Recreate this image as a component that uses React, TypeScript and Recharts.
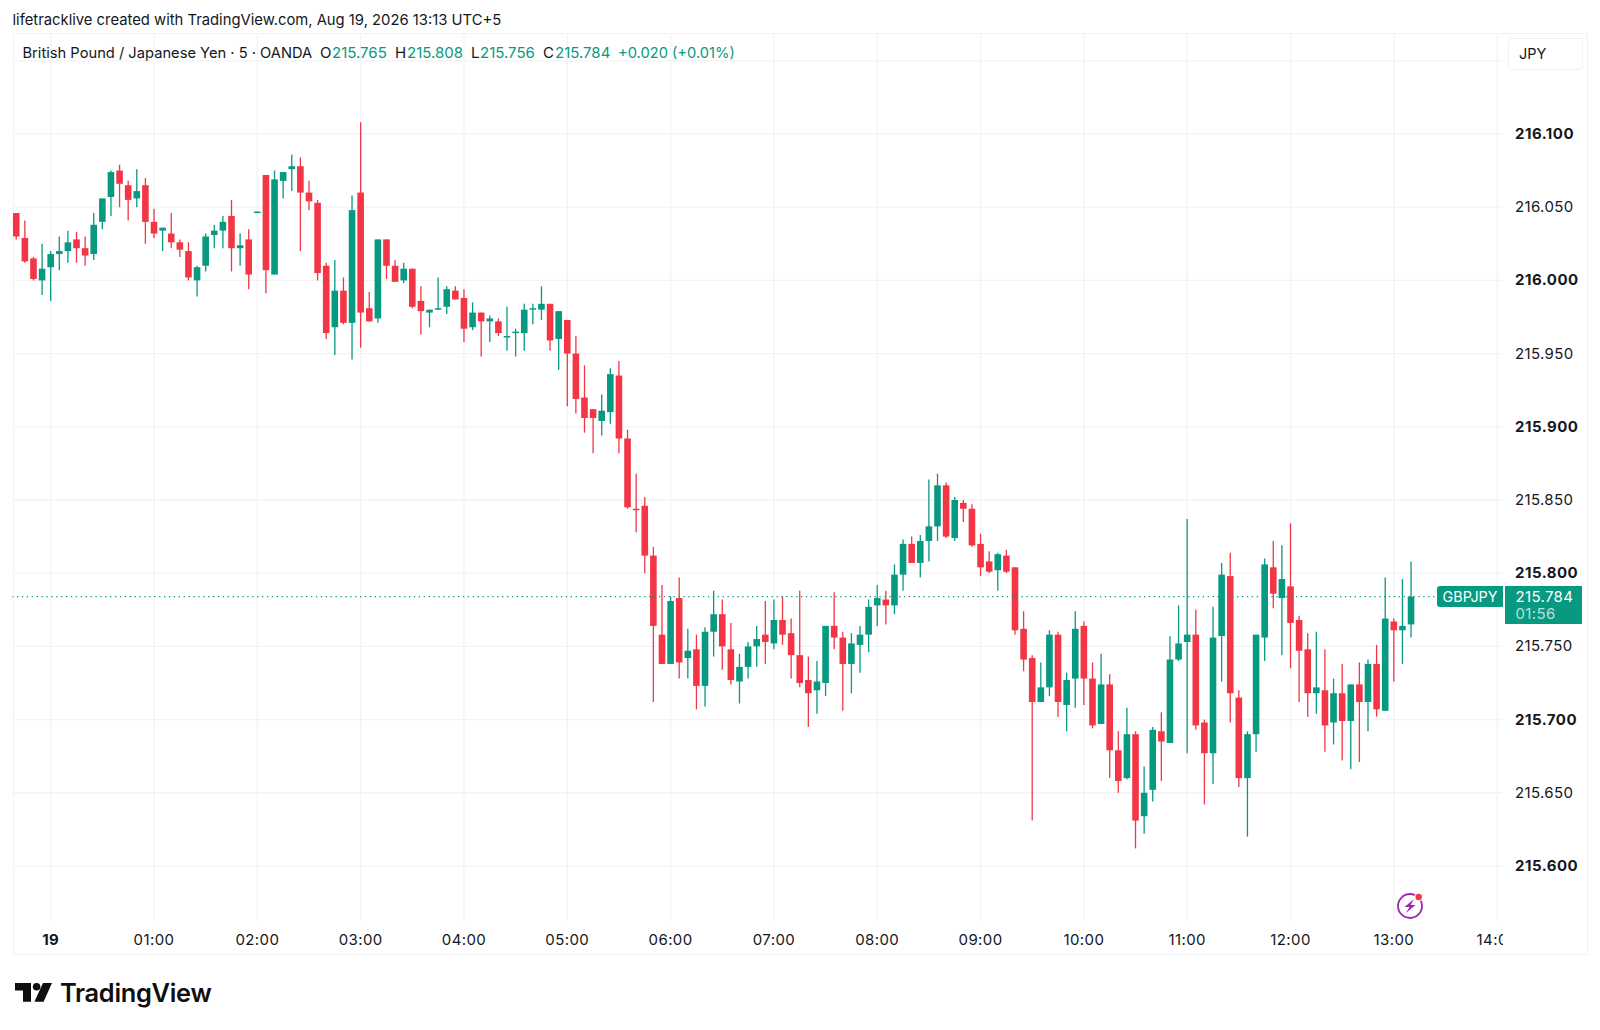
import { Bar, CartesianGrid, ComposedChart, ReferenceLine, XAxis, YAxis } from "recharts";

const UP = "#089981";
const DOWN = "#f23645";
const INK = "#131722";
const GRID = "#f3f3f5";
const FONT = "Inter, 'Noto Sans', sans-serif";

const opens = [
  216.046, 216.029, 216.015, 216.0, 216.009, 216.018, 216.02, 216.028, 216.022, 216.018, 216.04, 216.057, 216.075, 216.065, 216.056, 216.065, 216.04, 216.034, 216.032, 216.026,
  216.02, 216.0, 216.01, 216.031, 216.034, 216.044, 216.022, 216.028, 216.046, 216.072, 216.004, 216.068, 216.076, 216.078, 216.06, 216.053, 216.01, 215.968, 215.993, 215.971,
  216.06, 215.981, 215.974, 216.028, 216.01, 216.0, 216.008, 215.986, 215.978, 215.98, 215.982, 215.993, 215.988, 215.968, 215.978, 215.972, 215.972, 215.961, 215.964, 215.964,
  215.98, 215.98, 215.984, 215.96, 215.973, 215.95, 215.92, 215.912, 215.904, 215.91, 215.935, 215.892, 215.844, 215.846, 215.812, 215.758, 215.738, 215.783, 215.742, 215.748,
  215.723, 215.76, 215.772, 215.748, 215.726, 215.736, 215.75, 215.758, 215.752, 215.768, 215.759, 215.744, 215.727, 215.72, 215.725, 215.764, 215.756, 215.738, 215.751, 215.758,
  215.778, 215.782, 215.778, 215.799, 215.82, 215.807, 215.822, 215.832, 215.86, 215.824, 215.848, 215.844, 215.82, 215.808, 215.802, 215.812, 215.804, 215.762, 215.742, 215.712,
  215.722, 215.758, 215.71, 215.728, 215.764, 215.728, 215.697, 215.724, 215.679, 215.66, 215.69, 215.634, 215.652, 215.692, 215.684, 215.741, 215.753, 215.758, 215.698, 215.677,
  215.757, 215.798, 215.715, 215.66, 215.69, 215.756, 215.804, 215.783, 215.791, 215.768, 215.748, 215.718, 215.72, 215.698, 215.718, 215.699, 215.724, 215.712, 215.738, 215.706,
  215.767, 215.761, 215.765,
];
const highs = [
  216.046, 216.041, 216.016, 216.025, 216.02, 216.03, 216.034, 216.033, 216.03, 216.046, 216.056, 216.075, 216.079, 216.068, 216.076, 216.07, 216.049, 216.036, 216.046, 216.028,
  216.026, 216.01, 216.032, 216.038, 216.044, 216.055, 216.032, 216.035, 216.047, 216.072, 216.075, 216.074, 216.086, 216.084, 216.068, 216.055, 216.012, 216.014, 216.002, 216.058,
  216.108, 215.992, 216.028, 216.028, 216.014, 216.012, 216.008, 215.996, 215.98, 216.002, 215.996, 215.996, 215.994, 215.985, 215.978, 215.976, 215.974, 215.982, 215.967, 215.984,
  215.984, 215.996, 215.984, 215.979, 215.973, 215.962, 215.942, 215.912, 215.922, 215.94, 215.945, 215.898, 215.868, 215.852, 215.818, 215.792, 215.784, 215.797, 215.762, 215.758,
  215.763, 215.788, 215.782, 215.766, 215.745, 215.753, 215.764, 215.781, 215.782, 215.784, 215.769, 215.788, 215.743, 215.74, 215.764, 215.787, 215.76, 215.759, 215.764, 215.782,
  215.792, 215.788, 215.806, 215.823, 215.825, 215.826, 215.864, 215.868, 215.862, 215.852, 215.85, 215.847, 215.827, 215.815, 215.814, 215.816, 215.804, 215.774, 215.744, 215.739,
  215.761, 215.76, 215.732, 215.774, 215.767, 215.739, 215.745, 215.731, 215.692, 215.708, 215.692, 215.668, 215.695, 215.705, 215.757, 215.778, 215.837, 215.775, 215.7, 215.777,
  215.807, 215.814, 215.72, 215.692, 215.758, 215.81, 215.822, 215.819, 215.834, 215.771, 215.759, 215.76, 215.748, 215.728, 215.738, 215.724, 215.739, 215.741, 215.751, 215.797,
  215.769, 215.796, 215.808,
];
const lows = [
  216.028, 216.012, 216.0, 215.99, 215.986, 216.007, 216.012, 216.012, 216.01, 216.014, 216.035, 216.044, 216.05, 216.041, 216.05, 216.025, 216.029, 216.02, 216.022, 216.016,
  216.0, 215.989, 216.006, 216.022, 216.022, 216.006, 216.01, 215.994, 216.046, 215.991, 216.004, 216.056, 216.061, 216.02, 216.048, 216.0, 215.96, 215.949, 215.97, 215.946,
  215.954, 215.972, 215.971, 216.001, 215.999, 215.998, 215.981, 215.963, 215.968, 215.98, 215.977, 215.987, 215.958, 215.966, 215.948, 215.958, 215.962, 215.952, 215.948, 215.952,
  215.97, 215.973, 215.952, 215.939, 215.914, 215.909, 215.896, 215.882, 215.894, 215.902, 215.882, 215.844, 215.828, 215.8, 215.712, 215.738, 215.738, 215.728, 215.728, 215.707,
  215.709, 215.743, 215.734, 215.724, 215.711, 215.728, 215.736, 215.738, 215.748, 215.751, 215.728, 215.722, 215.695, 215.704, 215.716, 215.748, 215.706, 215.718, 215.732, 215.746,
  215.764, 215.765, 215.772, 215.788, 215.807, 215.797, 215.808, 215.822, 215.824, 215.822, 215.835, 215.818, 215.798, 215.8, 215.788, 215.8, 215.758, 215.733, 215.631, 215.712,
  215.716, 215.702, 215.692, 215.708, 215.71, 215.694, 215.697, 215.66, 215.65, 215.659, 215.612, 215.622, 215.644, 215.658, 215.684, 215.74, 215.677, 215.693, 215.642, 215.656,
  215.726, 215.698, 215.654, 215.62, 215.678, 215.74, 215.776, 215.744, 215.735, 215.712, 215.702, 215.704, 215.678, 215.683, 215.672, 215.666, 215.671, 215.692, 215.702, 215.706,
  215.726, 215.738, 215.756,
];
const closes = [
  216.03, 216.013, 216.001, 216.008, 216.018, 216.02, 216.026, 216.022, 216.017, 216.038, 216.056, 216.074, 216.066, 216.055, 216.061, 216.04, 216.032, 216.036, 216.026, 216.021,
  216.002, 216.009, 216.03, 216.034, 216.04, 216.022, 216.024, 216.004, 216.047, 216.007, 216.069, 216.074, 216.078, 216.06, 216.054, 216.005, 215.964, 215.993, 215.971, 216.048,
  215.978, 215.972, 216.028, 216.01, 215.999, 216.008, 215.982, 215.979, 215.98, 215.981, 215.994, 215.987, 215.967, 215.978, 215.972, 215.974, 215.964, 215.962, 215.965, 215.98,
  215.981, 215.984, 215.959, 215.979, 215.95, 215.919, 215.906, 215.906, 215.911, 215.936, 215.892, 215.845, 215.843, 215.812, 215.764, 215.738, 215.781, 215.739, 215.747, 215.723,
  215.76, 215.772, 215.75, 215.727, 215.736, 215.75, 215.755, 215.753, 215.768, 215.758, 215.744, 215.725, 215.718, 215.726, 215.764, 215.756, 215.738, 215.752, 215.758, 215.777,
  215.783, 215.778, 215.799, 215.82, 215.807, 215.822, 215.832, 215.86, 215.825, 215.85, 215.844, 215.819, 215.804, 215.801, 215.813, 215.801, 215.761, 215.741, 215.712, 215.722,
  215.758, 215.712, 215.727, 215.762, 215.728, 215.696, 215.724, 215.679, 215.658, 215.69, 215.631, 215.65, 215.693, 215.685, 215.741, 215.752, 215.758, 215.696, 215.677, 215.756,
  215.799, 215.718, 215.66, 215.69, 215.758, 215.806, 215.786, 215.796, 215.766, 215.747, 215.718, 215.722, 215.696, 215.718, 215.699, 215.724, 215.712, 215.738, 215.707, 215.769,
  215.761, 215.764, 215.784,
];

const priceTicks = [216.15, 216.1, 216.05, 216.0, 215.95, 215.9, 215.85, 215.8, 215.75, 215.7, 215.65, 215.6];
const boldPrices = [216.1, 216.0, 215.9, 215.8, 215.7, 215.6];
const timeTicks = [0, 60, 120, 180, 240, 300, 360, 420, 480, 540, 600, 660, 720, 780, 840];
const timeLabels = ["19", "01:00", "02:00", "03:00", "04:00", "05:00", "06:00", "07:00", "08:00", "09:00", "10:00", "11:00", "12:00", "13:00", "14:00"];
const lastPrice = 215.784;

// minutes since midnight, first bar is 23:40 the day before
const data = opens.map((open, i) => ({
  t: -20 + i * 5,
  open,
  high: highs[i],
  low: lows[i],
  close: closes[i],
}));

const Candle = (props: any) => {
  const { x, y, width, height, payload } = props;
  const { open, close, high, low } = payload;
  const color = close >= open ? UP : DOWN;
  const perUnit = height / (high - low);
  const top = y + (high - Math.max(open, close)) * perUnit;
  const bodyHeight = Math.max(Math.abs(open - close) * perUnit, 1.4);
  const cx = x + width / 2;
  return (
    <g>
      <line x1={cx} x2={cx} y1={y} y2={y + height} stroke={color} strokeWidth={1.3} />
      <rect x={x} y={top} width={width} height={bodyHeight} fill={color} />
    </g>
  );
};

const PriceTick = (props: any) => {
  const { y, payload } = props;
  if (payload.value === 216.15) return <g />;
  const bold = boldPrices.includes(payload.value);
  return (
    <text x={1515} y={y + 5} fontSize={15} fontFamily={FONT} fontWeight={bold ? 700 : 400} fill={INK} letterSpacing={bold ? 0.5 : 0.35}>
      {payload.value.toFixed(3)}
    </text>
  );
};

const TimeTick = (props: any) => {
  const { x, y, payload } = props;
  const i = timeTicks.indexOf(payload.value);
  const label = timeLabels[i];
  // the last label is cut off by the price scale
  return (
    <svg x={x - 40} y={y} width={Math.min(80, 1503 - (x - 40))} height={30}>
      <text x={40} y={16} textAnchor="middle" fontSize={15} fontFamily={FONT} fontWeight={i === 0 ? 700 : 400} fill={INK} letterSpacing={0.4}>
        {label}
      </text>
    </svg>
  );
};

const abs = (left: number, top: number, color = INK, extra: any = {}) => ({
  position: "absolute" as const,
  left,
  top,
  color,
  whiteSpace: "nowrap" as const,
  lineHeight: "20px",
  ...extra,
});

export default function App() {
  return (
    <div style={{ position: "absolute", left: 0, top: 0, width: 1600, height: 1030, background: "#fff", fontFamily: FONT, fontSize: 15, overflow: "hidden" }}>
      <div style={abs(12.5, 10, INK, { fontSize: 14.8 })}>lifetracklive created with TradingView.com, Aug 19, 2026 13:13 UTC+5</div>
      <div style={{ position: "absolute", left: 12.5, top: 33, width: 1575, height: 922, border: "1px solid #f0f2f6", boxSizing: "border-box" }} />
      <div style={{ position: "absolute", left: 0, top: 0 }}>
        <ComposedChart width={1600} height={1030} data={data} margin={{ top: 33, right: 0, bottom: 75, left: 12.5 }}>
          <CartesianGrid stroke={GRID} strokeWidth={1.3} syncWithTicks />
          <XAxis
            dataKey="t"
            type="number"
            domain={[-22.18, 843.4]}
            allowDataOverflow
            ticks={timeTicks}
            interval={0}
            height={34}
            axisLine={false}
            tickLine={false}
            tick={<TimeTick />}
          />
          <YAxis
            orientation="right"
            type="number"
            domain={[215.5624, 216.169]}
            allowDataOverflow
            ticks={priceTicks}
            interval={0}
            width={97}
            axisLine={false}
            tickLine={false}
            tick={<PriceTick />}
          />
          <ReferenceLine y={lastPrice} stroke={UP} strokeWidth={1.2} strokeDasharray="1.3 3.6" />
          <Bar dataKey={(d: any) => [d.low, d.high]} barSize={6.6} shape={<Candle />} isAnimationActive={false} />
        </ComposedChart>
      </div>

      <div style={abs(22.5, 43, INK, { fontSize: 14.7 })}>British Pound / Japanese Yen · 5 · OANDA</div>
      <div style={abs(320, 43)}>O</div>
      <div style={abs(332, 43, UP)}>215.765</div>
      <div style={abs(395, 43)}>H</div>
      <div style={abs(407, 43, UP)}>215.808</div>
      <div style={abs(471, 43)}>L</div>
      <div style={abs(480, 43, UP)}>215.756</div>
      <div style={abs(543, 43)}>C</div>
      <div style={abs(555, 43, UP)}>215.784</div>
      <div style={abs(618, 43, UP, { fontSize: 14.7 })}>+0.020</div>
      <div style={abs(672, 43, UP, { fontSize: 14.7 })}>(+0.01%)</div>

      <div style={{ ...abs(1508, 38), width: 75, height: 32, border: "1px solid #f0f2f6", borderRadius: 4, boxSizing: "border-box", background: "#fff", paddingLeft: 10, lineHeight: "30px", fontSize: 14.5 }}>JPY</div>

      <div style={{ position: "absolute", left: 1437, top: 586, width: 66, height: 21, background: UP, borderRadius: "3px 0 0 3px", color: "#fff", textAlign: "center", fontSize: 14.3, lineHeight: "21px" }}>GBPJPY</div>
      <div style={{ position: "absolute", left: 1505, top: 586, width: 77, height: 38, background: UP, color: "#fff" }}>
        <div style={abs(10.5, 1, "#fff", { fontSize: 15, lineHeight: "19px", letterSpacing: 0.35 })}>215.784</div>
        <div style={abs(10.5, 18, "rgba(255,255,255,0.72)", { fontSize: 15, lineHeight: "19px", letterSpacing: 0.35 })}>01:56</div>
      </div>

      <svg style={{ position: "absolute", left: 1394, top: 890 }} width={32} height={32} viewBox="0 0 32 32">
        <circle cx={16} cy={16} r={12} fill="none" stroke="#9c27b0" strokeWidth={1.8} />
        <path d="M20 9 L10.5 17 H15.5 L12 23 L21.5 15 H16.5 Z" fill="#9c27b0" />
        <circle cx={24.7} cy={7} r={4.4} fill="#fff" />
        <circle cx={24.7} cy={7} r={3.2} fill={DOWN} />
      </svg>

      <svg style={{ position: "absolute", left: 15, top: 983 }} width={37} height={19} viewBox="0 0 37 19">
        <path d="M0 0 H16 V18.7 H8 V7.6 H0 Z" fill="#0f0f0f" />
        <circle cx={21.6} cy={3.8} r={3.8} fill="#0f0f0f" />
        <path d="M28 0 H37 L28.6 18.7 H19.4 Z" fill="#0f0f0f" />
      </svg>
      <div style={abs(60, 977, "#0f0f0f", { fontSize: 25.4, fontWeight: 600, lineHeight: "32px", letterSpacing: -0.3 })}>TradingView</div>
    </div>
  );
}
